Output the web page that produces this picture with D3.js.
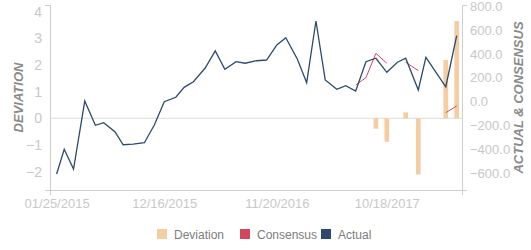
<!DOCTYPE html>
<html>
<head>
<meta charset="utf-8">
<script src="https://cdn.jsdelivr.net/npm/d3@7"></script>
<style>
  body { margin: 0; background: #fff; }
  svg { font-family: "Liberation Sans", Arial, sans-serif; }
</style>
</head>
<body>
<svg id="chart" width="531" height="250"></svg>
<script>
// monthly release dates
const dates = [
    "2015-01-25", "2015-02-17", "2015-03-17", "2015-04-20", "2015-05-22", "2015-06-16",
    "2015-07-20", "2015-08-14", "2015-09-13", "2015-10-17", "2015-11-16", "2015-12-16",
    "2016-01-20", "2016-02-14", "2016-03-13", "2016-04-17", "2016-05-18", "2016-06-16",
    "2016-07-20", "2016-08-16", "2016-09-20", "2016-10-20", "2016-11-20", "2016-12-17",
    "2017-01-21", "2017-02-18", "2017-03-18", "2017-04-15", "2017-05-20", "2017-06-16",
    "2017-07-16", "2017-08-16", "2017-09-15", "2017-10-18", "2017-11-19", "2017-12-14",
    "2018-01-21", "2018-02-13", "2018-04-14", "2018-05-17"
];

const actual = [
    -606, -399, -564, 5, -198, -176, -252, -361, -355, -344, -196, 0,
    37, 120, 167, 280, 425, 271, 335, 322, 343, 349, 475, 536,
    355, 159, 676, 182, 104, 134, 89, 335, 364, 246, 330, 364,
    98, 372, 125, 553
];

const consensus = [
    null, null, null, null, null, null, null, null, null, null, null, null,
    null, null, null, null, null, null, null, null, null, null, null, null,
    null, null, null, null, null, null, 140, 201, 405, 322, null, 330,
    260, null, -92, -36
];

const deviation = [
    null, null, null, null, null, null, null, null, null, null, null, null,
    null, null, null, null, null, null, null, null, null, null, null, null,
    null, null, null, null, null, null, null, null, -0.39, -0.88, null, 0.22,
    -2.11, null, 2.19, 3.65
];

const xTickLabels = ["01/25/2015", "12/16/2015", "11/20/2016", "10/18/2017"];
const devTicks = [-2, -1, 0, 1, 2, 3, 4];
const valueTicks = [-600, -400, -200, 0, 200, 400, 600, 800];

const seriesNames = ["Deviation", "Consensus", "Actual"];
const colors = d3.scaleOrdinal(seriesNames, ["#f5cda2", "#d4465c", "#2d4a6e"]);

const svg = d3.select("#chart");
const plotLeft = 50, plotRight = 462, plotTop = 5, plotBottom = 190;

const parse = d3.timeParse("%Y-%m-%d");
const fmt = d3.timeFormat("%m/%d/%Y");
const data = dates.map((d, i) => ({
    date: parse(d),
    actual: actual[i],
    consensus: consensus[i],
    deviation: deviation[i]
}));

const x = d3.scaleTime()
    .domain([d3.timeDay.offset(data[0].date, -20), d3.timeDay.offset(data[data.length - 1].date, 16)])
    .range([plotLeft, plotRight]);

const yDev = d3.scaleLinear().domain([-2.69, 4.25]).range([plotBottom, plotTop]);
const yVal = d3.scaleLinear().domain([-740, 810]).range([plotBottom, plotTop]);

// zero line
svg.append("line")
    .attr("x1", plotLeft).attr("x2", plotRight)
    .attr("y1", yDev(0)).attr("y2", yDev(0))
    .attr("stroke", "#dcdcdc");

// axes
function styleAxis(g) {
    g.select(".domain").attr("stroke", "#cfcfcf");
    g.selectAll("text").attr("fill", "#c8c8c8").style("font-size", "13px");
}

svg.append("g")
    .attr("transform", `translate(${plotLeft},0)`)
    .call(d3.axisLeft(yDev).tickValues(devTicks).tickFormat(d3.format("d"))
        .tickSizeInner(0).tickSizeOuter(5).tickPadding(8))
    .call(styleAxis)
    .call(g => g.selectAll("text").style("font-size", "14px"));

svg.append("g")
    .attr("transform", `translate(${plotRight},0)`)
    .call(d3.axisRight(yVal).tickValues(valueTicks).tickFormat(d3.format(".1f"))
        .tickSizeInner(0).tickSizeOuter(5).tickPadding(8))
    .call(styleAxis);

svg.append("g")
    .attr("transform", `translate(0,${plotBottom})`)
    .call(d3.axisBottom(x).tickValues(xTickLabels.map(d => d3.timeParse("%m/%d/%Y")(d)))
        .tickFormat(fmt).tickSizeInner(0).tickSizeOuter(5).tickPadding(9))
    .call(styleAxis);

// axis titles
svg.append("text")
    .attr("transform", `translate(23,${(plotTop + plotBottom) / 2}) rotate(-90)`)
    .attr("text-anchor", "middle")
    .style("font-size", "13px")
    .style("font-style", "italic")
    .style("font-weight", "bold")
    .attr("fill", "#8a8a8a")
    .text("DEVIATION");

svg.append("text")
    .attr("transform", `translate(523,${(plotTop + plotBottom) / 2}) rotate(-90)`)
    .attr("text-anchor", "middle")
    .style("font-size", "13px")
    .style("font-style", "italic")
    .style("font-weight", "bold")
    .attr("fill", "#8a8a8a")
    .text("ACTUAL & CONSENSUS");

// deviation bars
const barW = 4.7;
svg.append("g")
    .selectAll("rect")
    .data(data.filter(d => d.deviation != null))
    .join("rect")
    .attr("x", d => x(d.date) - barW / 2)
    .attr("width", barW)
    .attr("y", d => yDev(Math.max(0, d.deviation)))
    .attr("height", d => Math.abs(yDev(d.deviation) - yDev(0)))
    .attr("fill", colors("Deviation"));

// consensus line
const consensusLine = d3.line()
    .defined(d => d.consensus != null)
    .x(d => x(d.date))
    .y(d => yVal(d.consensus));

svg.append("path")
    .datum(data)
    .attr("d", consensusLine)
    .attr("fill", "none")
    .attr("stroke", colors("Consensus"))
    .attr("stroke-width", 1);

// actual line
const actualLine = d3.line()
    .x(d => x(d.date))
    .y(d => yVal(d.actual));

svg.append("path")
    .datum(data)
    .attr("d", actualLine)
    .attr("fill", "none")
    .attr("stroke", colors("Actual"))
    .attr("stroke-width", 1.3);

// legend
const legendX = [157, 240, 321];
const legend = svg.append("g").attr("transform", "translate(0,229)");

seriesNames.forEach((name, i) => {
    const row = legend.append("g").attr("transform", `translate(${legendX[i]},0)`);
    row.append("rect")
        .attr("width", 10)
        .attr("height", 10)
        .attr("fill", colors(name));
    row.append("text")
        .attr("x", 17)
        .attr("y", 10)
        .text(name)
        .attr("fill", "#7d7d7d")
        .style("font-size", "12px");
});
</script>
</body>
</html>
